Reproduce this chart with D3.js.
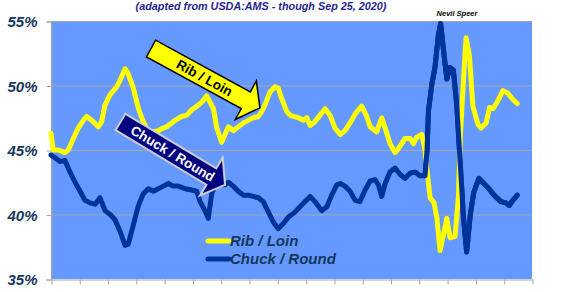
<!DOCTYPE html>
<html>
<head>
<meta charset="utf-8">
<script src="https://cdn.jsdelivr.net/npm/d3@7"></script>
<style>
  body { margin: 0; background: #fff; }
  svg text { font-family: "Liberation Sans", Arial, sans-serif; }
</style>
</head>
<body>
<div id="chart"></div>
<script>
    // series: [decimal year, percent share]
    var ribLoin = [
        [2004.00,46.3],[2004.08,45.0],[2004.26,45.0],[2004.38,44.9],[2004.49,44.8],[2004.61,45.0],
        [2004.79,45.9],[2004.96,46.7],[2005.14,47.3],[2005.26,47.6],[2005.44,47.3],[2005.67,46.8],
        [2005.79,47.2],[2005.91,48.5],[2006.09,49.3],[2006.32,49.9],[2006.44,50.4],[2006.62,51.3],
        [2006.73,50.9],[2006.91,49.8],[2007.09,48.2],[2007.26,47.2],[2007.44,46.4],[2007.62,46.4],
        [2007.79,46.5],[2007.97,46.7],[2008.09,46.8],[2008.27,47.1],[2008.38,47.3],[2008.62,47.6],
        [2008.80,47.7],[2008.97,48.1],[2009.15,48.4],[2009.33,48.7],[2009.50,49.2],[2009.74,48.2],
        [2009.86,46.7],[2010.03,45.6],[2010.15,46.2],[2010.27,46.8],[2010.44,46.5],[2010.62,46.8],
        [2010.80,47.1],[2010.97,47.3],[2011.15,47.5],[2011.33,47.6],[2011.45,48.0],[2011.56,48.5],
        [2011.74,49.5],[2011.92,49.9],[2012.03,49.8],[2012.15,49.0],[2012.33,48.0],[2012.45,47.7],
        [2012.57,47.6],[2012.74,47.5],[2012.92,47.3],[2013.04,47.5],[2013.16,46.9],[2013.33,47.2],
        [2013.51,47.7],[2013.69,48.2],[2013.86,47.7],[2014.04,46.7],[2014.22,46.2],[2014.39,46.5],
        [2014.57,47.1],[2014.75,47.8],[2014.98,48.4],[2015.16,47.6],[2015.28,46.8],[2015.51,46.4],
        [2015.69,47.5],[2015.87,46.3],[2015.98,45.5],[2016.16,44.8],[2016.34,45.3],[2016.51,45.9],
        [2016.69,45.9],[2016.81,45.5],[2016.93,46.0],[2017.10,46.2],[2017.22,45.0],[2017.28,43.6],
        [2017.40,41.3],[2017.54,40.9],[2017.64,39.7],[2017.75,37.2],[2017.87,38.4],[2017.99,39.7],
        [2018.10,38.2],[2018.28,38.3],[2018.40,41.4],[2018.47,46.2],[2018.58,50.5],[2018.67,53.7],
        [2018.79,52.3],[2018.91,48.4],[2019.09,47.0],[2019.20,46.7],[2019.38,47.1],[2019.50,48.3],
        [2019.62,48.2],[2019.79,48.8],[2019.97,49.6],[2020.15,49.4],[2020.33,48.9],[2020.48,48.6]
    ];

    var chuckRound = [
        [2004.00,44.6],[2004.14,44.4],[2004.32,44.1],[2004.49,44.2],[2004.67,43.3],[2004.85,42.5],
        [2005.03,41.8],[2005.20,41.1],[2005.38,40.9],[2005.56,40.8],[2005.73,41.3],[2005.91,40.3],
        [2006.09,40.0],[2006.26,39.6],[2006.44,38.7],[2006.62,37.6],[2006.73,37.7],[2006.91,39.2],
        [2007.09,40.7],[2007.26,41.6],[2007.44,42.0],[2007.62,41.8],[2007.79,42.0],[2007.97,42.2],
        [2008.15,42.4],[2008.32,42.2],[2008.50,42.2],[2008.74,42.0],[2008.97,41.9],[2009.15,41.8],
        [2009.27,41.0],[2009.44,40.3],[2009.56,39.7],[2009.68,41.6],[2009.80,42.3],[2009.97,42.3],
        [2010.15,42.3],[2010.27,42.5],[2010.44,42.2],[2010.62,41.8],[2010.80,41.5],[2010.97,41.5],
        [2011.15,41.4],[2011.33,41.3],[2011.50,41.0],[2011.68,40.2],[2011.86,39.4],[2012.03,38.9],
        [2012.21,39.3],[2012.39,39.8],[2012.63,40.2],[2012.80,40.6],[2012.98,41.0],[2013.16,41.4],
        [2013.33,41.0],[2013.57,40.3],[2013.75,40.6],[2013.92,41.5],[2014.10,42.3],[2014.22,42.4],
        [2014.39,42.2],[2014.57,41.8],[2014.75,41.1],[2014.92,41.0],[2015.10,41.9],[2015.28,42.6],
        [2015.45,42.7],[2015.57,42.3],[2015.69,41.4],[2015.81,42.4],[2015.98,43.3],[2016.16,43.6],
        [2016.34,43.1],[2016.51,42.8],[2016.69,43.2],[2016.87,43.3],[2017.04,43.0],[2017.22,43.0],
        [2017.29,45.0],[2017.34,48.0],[2017.46,50.1],[2017.57,51.4],[2017.69,53.9],[2017.77,54.8],
        [2017.87,52.8],[2017.99,50.5],[2018.10,51.4],[2018.22,51.2],[2018.34,48.5],[2018.46,44.1],
        [2018.58,39.7],[2018.69,37.1],[2018.82,40.0],[2018.94,41.7],[2019.12,42.8],[2019.30,42.4],
        [2019.48,42.0],[2019.66,41.5],[2019.90,41.0],[2020.08,40.9],[2020.20,40.7],[2020.32,41.1],
        [2020.48,41.5]
    ];

    var years = d3.range(2004, 2022);
    var yTicks = [35, 40, 45, 50, 55];
    var seriesNames = ["Rib / Loin", "Chuck / Round"];
    var seriesColors = ["#ffff00", "#003399"];

    var width = 565, height = 292;
    var margin = {top: 21, right: 33, bottom: 13, left: 51};

    var xScale = d3.scaleLinear()
        .domain([2004, 2021])
        .range([margin.left, width - margin.right]);

    var yScale = d3.scaleLinear()
        .domain([35, 55])
        .range([height - margin.bottom, margin.top]);

    var svg = d3.select("#chart").append("svg")
        .attr("width", width)
        .attr("height", height);

    // plot area
    svg.append("rect")
        .attr("x", xScale(2004))
        .attr("y", yScale(55))
        .attr("width", xScale(2021) - xScale(2004))
        .attr("height", yScale(35) - yScale(55))
        .attr("fill", "#6699ff");

    // gridlines
    svg.append("g")
        .selectAll("line")
        .data(yTicks.slice(1))
        .enter().append("line")
        .attr("x1", xScale(2004))
        .attr("x2", xScale(2021))
        .attr("y1", d => yScale(d) + 0.5)
        .attr("y2", d => yScale(d) + 0.5)
        .attr("stroke", "#a6a6a6")
        .attr("stroke-width", 1);

    var yAxis = d3.axisLeft(yScale)
        .tickValues(yTicks)
        .tickSize(5)
        .tickFormat(d => d + "%");

    var gy = svg.append("g")
        .attr("transform", "translate(" + (margin.left + 0.5) + ",0.5)")
        .call(yAxis);
    gy.selectAll("path, line").attr("stroke", "#a6a6a6");
    gy.selectAll("text")
        .attr("x", -14)
        .attr("dy", "0.36em")
        .style("font-size", "15px")
        .style("font-weight", "bold")
        .style("font-style", "italic")
        .attr("fill", "#17375e");

    var xAxis = d3.axisBottom(xScale)
        .tickValues(years)
        .tickSize(5)
        .tickSizeOuter(0)
        .tickFormat("");

    var gx = svg.append("g")
        .attr("transform", "translate(0.5," + (yScale(35) + 0.5) + ")")
        .call(xAxis);
    gx.selectAll("path, line").attr("stroke", "#a6a6a6");

    var lineGen = d3.line()
        .x(d => xScale(d[0]))
        .y(d => yScale(d[1]));

    [chuckRound, ribLoin].forEach(function(serie, i) {
        svg.append("path")
            .attr("d", lineGen(serie))
            .attr("fill", "none")
            .attr("stroke", seriesColors[1 - i])
            .attr("stroke-width", 5)
            .attr("stroke-linejoin", "round")
            .attr("stroke-linecap", "round");
    });
    // blue runs over yellow in the 2017-2018 swing
    svg.append("path")
        .attr("d", lineGen(chuckRound.filter(d => d[0] > 2017.2)))
        .attr("fill", "none")
        .attr("stroke", seriesColors[1])
        .attr("stroke-width", 5)
        .attr("stroke-linejoin", "round")
        .attr("stroke-linecap", "round");

    // arrows with labels
    function arrow(x, y, angle, len, fill, stroke, strokeW, label, textColor) {
        var bw = 9.5, hw = 22, hl = 16;
        var pts = [[0, -bw], [len - hl, -bw], [len - hl, -hw], [len, 0],
                   [len - hl, hw], [len - hl, bw], [0, bw]];
        var g = svg.append("g")
            .attr("transform", "translate(" + x + "," + y + ") rotate(" + angle + ")");
        g.append("path")
            .attr("d", d3.line()(pts) + "Z")
            .attr("fill", fill)
            .attr("stroke", stroke)
            .attr("stroke-width", strokeW)
            .attr("stroke-linejoin", "miter");
        g.append("text")
            .attr("x", 61)
            .attr("y", 0)
            .attr("dy", "0.36em")
            .attr("text-anchor", "middle")
            .style("font-size", "13.5px")
            .style("font-weight", "bold")
            .attr("fill", textColor)
            .text(label);
    }
    arrow(151, 48.5, 28.6, 124, "#ffff00", "#000", 1.5, seriesNames[0], "#000");
    arrow(120.5, 122, 31, 122, "#000080", "#cccccc", 2, seriesNames[1], "#fff");

    // legend
    var legend = svg.selectAll(".legend")
        .data(seriesNames)
        .enter().append("g")
        .attr("class", "legend")
        .attr("transform", (d, i) => "translate(208," + (241 + i * 18) + ")");

    legend.append("line")
        .attr("x1", 0).attr("x2", 21)
        .attr("stroke", (d, i) => seriesColors[i])
        .attr("stroke-width", 5)
        .attr("stroke-linecap", "round");

    legend.append("text")
        .attr("x", 22)
        .attr("dy", "0.36em")
        .style("font-size", "15px")
        .style("font-weight", "bold")
        .style("font-style", "italic")
        .attr("fill", "#17375e")
        .text(d => d);

    // header texts
    svg.append("text")
        .attr("x", 261)
        .attr("y", 10)
        .attr("text-anchor", "middle")
        .style("font-size", "10.8px")
        .style("font-weight", "bold")
        .style("font-style", "italic")
        .attr("fill", "#1f1f8f")
        .text("(adapted from USDA:AMS - though Sep 25, 2020)");

    svg.append("text")
        .attr("x", 457)
        .attr("y", 15.5)
        .attr("text-anchor", "middle")
        .style("font-size", "7.5px")
        .style("font-weight", "bold")
        .style("font-style", "italic")
        .attr("fill", "#000")
        .text("Nevil Speer");
</script>
</body>
</html>
